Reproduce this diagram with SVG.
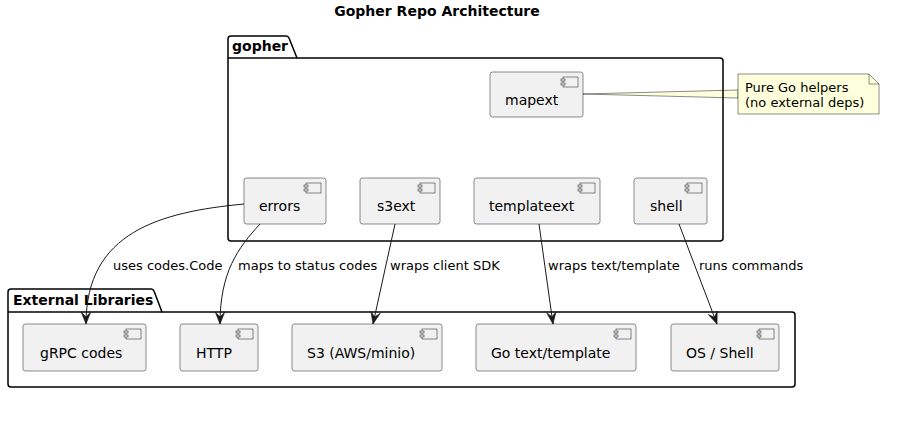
<svg xmlns="http://www.w3.org/2000/svg" width="924" height="444" viewBox="0 0 924 444">
<style>
text{font-family:"DejaVu Sans","Liberation Sans",sans-serif;fill:#000}
.title{font-size:14px;font-weight:bold}
.pkg{fill:none;stroke:#000;stroke-width:1.5}
.pkgname{font-size:14px;font-weight:bold}
.comp{fill:#F1F1F1;stroke:#181818;stroke-width:0.5}
.ctext{font-size:14px}
.elabel{font-size:13px}
.edge{fill:none;stroke:#181818;stroke-width:1}
.note{fill:#FEFFDD;stroke:#181818;stroke-width:0.5}
.ntext{font-size:13px}
</style>
<defs>
<marker id="arr" markerUnits="userSpaceOnUse" markerWidth="12" markerHeight="12" viewBox="0 0 10 10" refX="10" refY="5" orient="auto">
<path d="M10,5 L0,1 L4,5 L0,9 Z" fill="#181818" stroke="#181818" stroke-width="0.5"/>
</marker>
<g id="icon">
<rect x="0" y="0" width="15" height="10" fill="#F1F1F1" stroke="#181818" stroke-width="0.5"/>
<rect x="-2" y="2" width="4" height="2" fill="#F1F1F1" stroke="#181818" stroke-width="0.5"/>
<rect x="-2" y="6" width="4" height="2" fill="#F1F1F1" stroke="#181818" stroke-width="0.5"/>
</g>
</defs>
<rect width="924" height="444" fill="#fff"/>
<text class="title" x="437" y="16" text-anchor="middle">Gopher Repo Architecture</text>

<g id="note-wedge">
<polygon class="note" points="583,94 738,90 738,98"/>
</g>

<g id="pkg-gopher">
<path class="pkg" d="M231,36 L286,36 A3,3 0 0 1 289,38 L297,58 L720,58 A3,3 0 0 1 723,61 L723,238 A3,3 0 0 1 720,241 L231,241 A3,3 0 0 1 228,238 L228,39 A3,3 0 0 1 231,36 Z"/>
<line x1="228" y1="58" x2="297" y2="58" stroke="#000" stroke-width="1.5"/>
<text class="pkgname" x="232" y="51">gopher</text>
</g>

<g id="pkg-external">
<path class="pkg" d="M11,289 L151,289 A3,3 0 0 1 154,291 L162,312 L792,312 A3,3 0 0 1 795,315 L795,384 A3,3 0 0 1 792,387 L11,387 A3,3 0 0 1 8,384 L8,292 A3,3 0 0 1 11,289 Z"/>
<line x1="8" y1="312" x2="162" y2="312" stroke="#000" stroke-width="1.5"/>
<text class="pkgname" x="13" y="305">External Libraries</text>
</g>

<g id="mapext">
<rect class="comp" x="490" y="72" width="93" height="45" rx="2.5"/>
<use href="#icon" x="563" y="77"/>
<text class="ctext" x="505" y="105">mapext</text>
</g>

<g id="note">
<path class="note" d="M738,74 L869,74 L879,84 L879,114 L738,114 Z"/>
<path d="M869,74 L869,84 L879,84" fill="none" stroke="#181818" stroke-width="0.5"/>
<text class="ntext" x="745" y="92">Pure Go helpers</text>
<text class="ntext" x="745" y="107">(no external deps)</text>
</g>

<g id="errors">
<rect class="comp" x="244" y="178" width="82" height="46" rx="2.5"/>
<use href="#icon" x="306" y="183"/>
<text class="ctext" x="259" y="211">errors</text>
</g>
<g id="s3ext">
<rect class="comp" x="360" y="178" width="80" height="46" rx="2.5"/>
<use href="#icon" x="420" y="183"/>
<text class="ctext" x="377" y="211">s3ext</text>
</g>
<g id="templateext">
<rect class="comp" x="474" y="178" width="126" height="46" rx="2.5"/>
<use href="#icon" x="580" y="183"/>
<text class="ctext" x="489" y="211">templateext</text>
</g>
<g id="shell">
<rect class="comp" x="634" y="178" width="73" height="46" rx="2.5"/>
<use href="#icon" x="687" y="183"/>
<text class="ctext" x="650" y="211">shell</text>
</g>

<g id="grpc">
<rect class="comp" x="23" y="324" width="123" height="47" rx="2.5"/>
<use href="#icon" x="126" y="329"/>
<text class="ctext" x="40" y="358">gRPC codes</text>
</g>
<g id="http">
<rect class="comp" x="180" y="324" width="78" height="47" rx="2.5"/>
<use href="#icon" x="238" y="329"/>
<text class="ctext" x="196" y="358">HTTP</text>
</g>
<g id="s3">
<rect class="comp" x="292" y="324" width="150" height="47" rx="2.5"/>
<use href="#icon" x="422" y="329"/>
<text class="ctext" x="307" y="358">S3 (AWS/minio)</text>
</g>
<g id="gotemplate">
<rect class="comp" x="476" y="324" width="160" height="47" rx="2.5"/>
<use href="#icon" x="616" y="329"/>
<text class="ctext" x="491" y="358">Go text/template</text>
</g>
<g id="osshell">
<rect class="comp" x="671" y="324" width="108" height="47" rx="2.5"/>
<use href="#icon" x="759" y="329"/>
<text class="ctext" x="686" y="358">OS / Shell</text>
</g>

<g id="connectors">
<path class="edge" marker-end="url(#arr)" d="M244,204 C160,212 86,232 86,324"/>
<path class="edge" marker-end="url(#arr)" d="M260,224 C238,248 220,272 220,324"/>
<path class="edge" marker-end="url(#arr)" d="M395,224 L373,324"/>
<path class="edge" marker-end="url(#arr)" d="M539,224 L553,324"/>
<path class="edge" marker-end="url(#arr)" d="M679,224 L717,324"/>
<text class="elabel" x="113" y="270">uses codes.Code</text>
<text class="elabel" x="238" y="270">maps to status codes</text>
<text class="elabel" x="390" y="270">wraps client SDK</text>
<text class="elabel" x="548" y="270">wraps text/template</text>
<text class="elabel" x="699" y="270">runs commands</text>
</g>
</svg>
